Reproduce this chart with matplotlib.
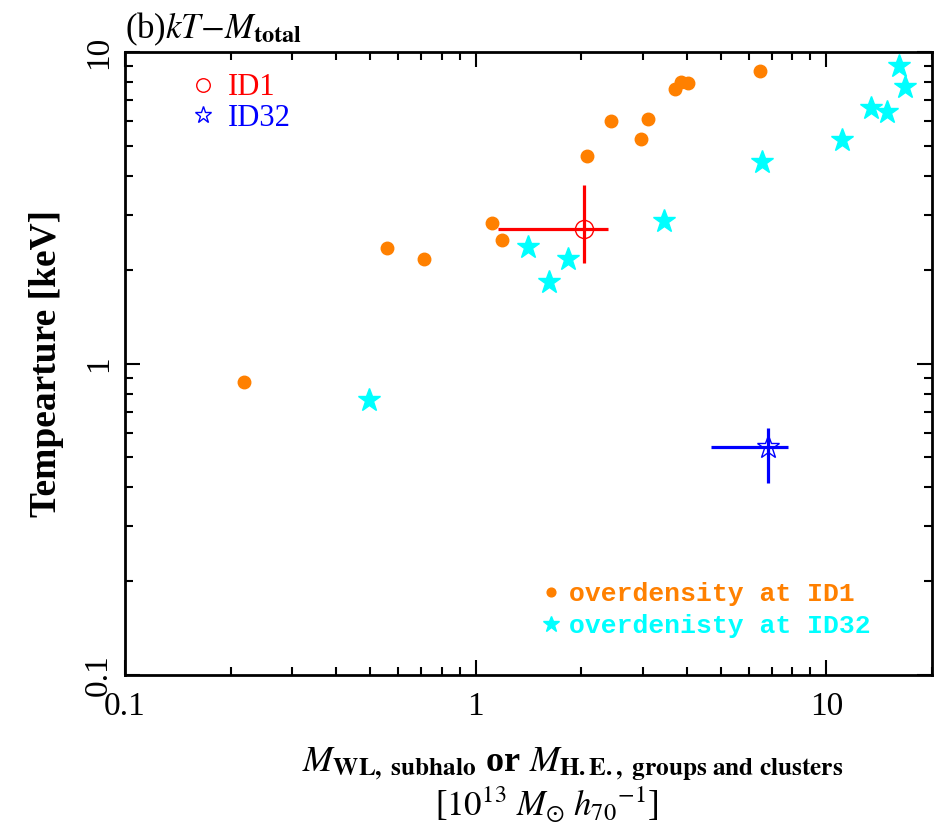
import matplotlib
matplotlib.use("Agg")
import matplotlib.pyplot as plt

plt.rcParams["font.family"] = ["Liberation Serif", "DejaVu Serif"]
plt.rcParams["mathtext.fontset"] = "stix"

# --- data -------------------------------------------------------------------
# overdensity at ID1 (orange dots)
m_id1_env = [0.218, 0.558, 0.713, 1.11, 1.19, 2.08, 2.43, 2.96, 3.11, 3.71, 3.86, 4.03, 6.45]
t_id1_env = [0.873, 2.35, 2.17, 2.83, 2.49, 4.65, 6.0, 5.25, 6.11, 7.61, 8.03, 7.94, 8.71]

# overdensity at ID32 (cyan stars)
m_id32_env = [0.496, 1.41, 1.62, 1.83, 3.44, 6.55, 11.1, 13.4, 14.9, 16.1, 16.8]
t_id32_env = [0.763, 2.37, 1.83, 2.17, 2.87, 4.43, 5.22, 6.62, 6.43, 9.04, 7.74]

# the two objects with error bars
m_id1, m_id1_lo, m_id1_hi = 2.03, 1.158, 2.38
t_id1, t_id1_lo, t_id1_hi = 2.70, 2.10, 3.74
m_id32, m_id32_lo, m_id32_hi = 6.81, 4.70, 7.78
t_id32, t_id32_lo, t_id32_hi = 0.54, 0.414, 0.62

orange = "#FF8000"
cyan = "#00FFFF"

fig = plt.figure(figsize=(9.39, 8.31), dpi=100)
ax = fig.add_axes([0.1331, 0.1877, 0.8594, 0.7497])

ax.set_xscale("log")
ax.set_yscale("log")
ax.set_xlim(0.1, 20)
ax.set_ylim(0.1, 10)

# error bars
ax.errorbar([m_id1], [t_id1],
            xerr=[[m_id1 - m_id1_lo], [m_id1_hi - m_id1]],
            yerr=[[t_id1 - t_id1_lo], [t_id1_hi - t_id1]],
            fmt="none", ecolor="red", elinewidth=2.3, capsize=0, zorder=3)
ax.errorbar([m_id32], [t_id32],
            xerr=[[m_id32 - m_id32_lo], [m_id32_hi - m_id32]],
            yerr=[[t_id32 - t_id32_lo], [t_id32_hi - t_id32]],
            fmt="none", ecolor="blue", elinewidth=2.3, capsize=0, zorder=3)

p1, = ax.plot([m_id1], [t_id1], ls="none", marker="o", ms=13, mfc="none",
              mec="red", mew=1.0, zorder=4)
p2, = ax.plot([m_id32], [t_id32], ls="none", marker="*", ms=17, mfc="none",
              mec="blue", mew=1.0, zorder=4)

e1, = ax.plot(m_id1_env, t_id1_env, ls="none", marker="o", ms=9,
              color=orange, mec=orange, zorder=2)
e2, = ax.plot(m_id32_env, t_id32_env, ls="none", marker="*", ms=17,
              color=cyan, mec=cyan, zorder=2)

# ticks
ax.tick_params(which="both", direction="in", top=True, right=True, width=1.5)
ax.tick_params(which="major", length=11, labelsize=24)
ax.tick_params(axis="x", which="major", pad=12)
ax.tick_params(axis="y", which="major", pad=8)
ax.tick_params(which="minor", length=6)
ax.set_xticks([0.1, 1, 10])
ax.set_xticklabels(["0.1", "1", "10"])
ax.set_yticks([0.1, 1, 10])
ax.set_yticklabels(["0.1", "1", "10"], rotation=90, va="center")
for s in ax.spines.values():
    s.set_linewidth(2)

# legends
leg1 = ax.legend([p1, p2], ["ID1", "ID32"], loc="upper left",
                 bbox_to_anchor=(0.055, 1.0), frameon=False,
                 fontsize=22, labelcolor=["red", "blue"], markerscale=0.75,
                 handlelength=0.8, handletextpad=0.4, labelspacing=0.05,
                 borderpad=0.2)
ax.add_artist(leg1)
ax.legend([e1, e2], ["overdensity at ID1", "overdenisty at ID32"],
          loc="lower left", bbox_to_anchor=(0.495, 0.03), frameon=False,
          prop={"family": "Liberation Mono", "weight": "bold", "size": 19},
          labelcolor=[orange, cyan], markerscale=0.7,
          handlelength=0.6, handletextpad=0.4, labelspacing=0.3,
          borderpad=0.2)

# texts
ax.text(0.0, 1.006, r"(b)$kT$$-$$M_{\mathbf{total}}$", transform=ax.transAxes,
        ha="left", va="bottom", fontsize=25)
ax.set_ylabel("Tempearture [keV]", fontsize=27, fontweight="bold", labelpad=14)
fig.text(0.61, 0.081,
         r"$M_{\mathbf{WL,\ subhalo}}$ or $M_{\mathbf{H.E.,\ groups\ and\ clusters}}$",
         ha="center", va="center", fontsize=26, fontweight="bold")
fig.text(0.583, 0.031, r"[$10^{13}\ M_{\odot}\ h_{70}{}^{-1}$]",
         ha="center", va="center", fontsize=25)

fig.savefig("out.png", dpi=100)
